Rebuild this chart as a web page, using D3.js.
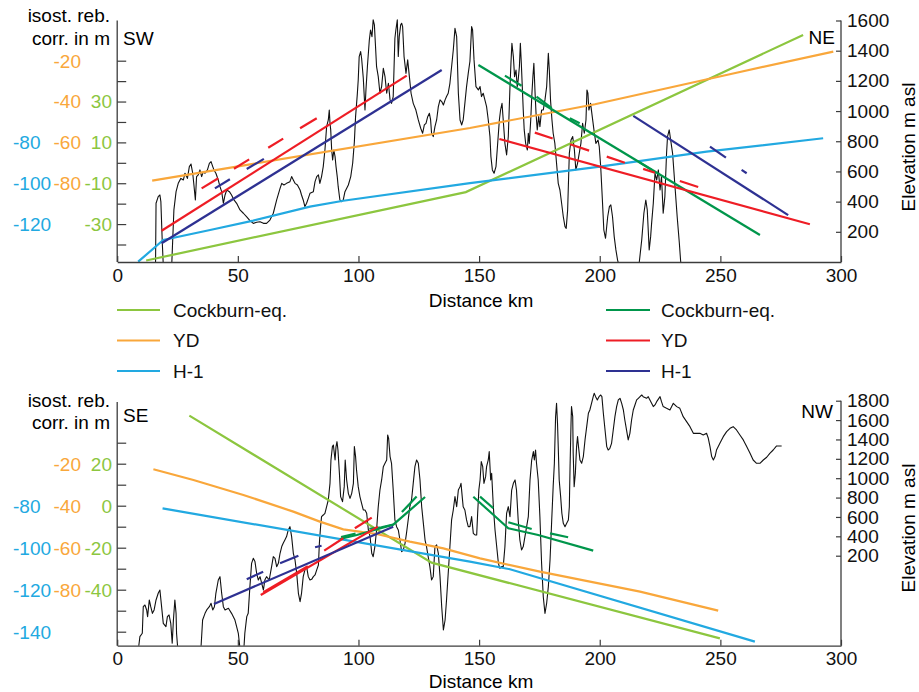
<!DOCTYPE html>
<html>
<head>
<meta charset="utf-8">
<script src="https://cdn.jsdelivr.net/npm/d3@7"></script>
<style>
  body { margin: 0; background: #fff; }
  svg text { font-family: "Liberation Sans", Arial, Helvetica, sans-serif; font-size: 19px; }
</style>
</head>
<body>
<svg id="chart" width="919" height="692"></svg>
<script>
// ---------- shared axis values ----------
const distanceTicks = [0, 50, 100, 150, 200, 250, 300];
const elevTicksTop = [200, 400, 600, 800, 1000, 1200, 1400, 1600];
const elevTicksBottom = [200, 400, 600, 800, 1000, 1200, 1400, 1600, 1800];

// isostatic rebound correction axis (three shoreline series share the tick marks)
const corrTicksTop = [-20, -30, -40, -50, -60, -70, -80, -90, -100, -110];   // YD scale
const corrLabelsTopYD = [-20, -40, -60, -80];
const corrLabelsTopCockburn = [30, 10, -10, -30];
const corrLabelsTopH1 = [-80, -100, -120];
const corrTicksBottom = [-10, -20, -30, -40, -50, -60, -70, -80, -90, -100]; // YD scale
const corrLabelsBottomYD = [-20, -40, -60, -80];
const corrLabelsBottomCockburn = [20, 0, -20, -40];
const corrLabelsBottomH1 = [-80, -100, -120, -140];

const legendNames = ["Cockburn-eq.", "YD", "H-1"];

// ---------- SW–NE profile: [distance km, elevation m asl] ----------
const profileSWNE = [
  [15.9,0],[16.1,389],[17.0,433],[17.7,444],[18.1,400],[18.7,124],[19.1,-20],[22.6,-20],[23.5,345],[24.4,466],
  [25.3,521],[26.4,554],[27.4,543],[28.1,588],[29.1,554],[29.9,632],[30.6,649],[31.3,588],[31.8,510],[32.4,411],
  [32.9,566],[33.6,577],[34.3,610],[35.0,566],[35.7,599],[36.4,588],[37.4,610],[38.2,654],[38.9,665],[39.6,632],
  [40.1,610],[40.9,588],[41.9,543],[42.6,499],[43.3,466],[44.0,389],[44.7,444],[45.4,477],[46.5,466],[47.4,444],
  [48.4,411],[49.5,389],[50.9,345],[52.3,323],[53.6,300],[55.0,274],[56.4,256],[57.8,263],[59.2,267],[60.6,256],
  [61.9,256],[63.3,278],[64.7,323],[66.1,411],[67.5,488],[68.2,521],[69.1,510],[70.2,521],[71.6,532],[72.3,566],
  [73.0,543],[73.7,521],[74.7,510],[75.8,477],[76.4,444],[77.1,411],[77.8,367],[78.5,389],[79.2,422],[79.9,455],
  [81.3,466],[82.0,532],[82.7,566],[83.4,577],[84.0,521],[84.7,566],[85.4,632],[86.1,742],[86.8,897],[87.5,941],
  [87.9,1007],[88.2,919],[88.5,875],[88.9,742],[89.3,676],[89.8,742],[90.3,698],[90.7,632],[91.2,566],[91.6,499],
  [92.3,411],[93.0,400],[93.7,411],[94.4,466],[95.8,510],[96.8,566],[97.6,654],[98.3,797],[98.8,963],[99.5,1107],
  [99.9,1206],[100.3,1361],[100.9,1394],[101.3,1350],[102.0,1217],[102.7,1007],[103.1,1140],[103.7,1294],[104.5,1471],[105.0,1537],
  [105.6,1493],[106.1,1604],[106.6,1571],[107.0,1449],[107.5,1294],[108.2,1228],[108.9,1118],[109.6,1162],[110.3,1283],[111.0,1228],
  [111.7,1118],[112.4,1184],[113.1,1074],[113.7,1051],[114.4,1096],[115.1,1482],[115.5,1537],[116.1,1604],[116.5,1361],[116.9,1493],
  [117.5,1571],[117.9,1582],[118.3,1560],[118.9,1361],[119.7,1250],[120.4,1339],[121.1,1228],[121.8,1118],[122.7,1051],[123.8,1007],
  [124.8,941],[125.8,886],[126.6,853],[127.3,908],[128.0,919],[128.7,963],[129.4,985],[129.9,941],[130.3,853],[131.0,831],
  [131.7,897],[132.4,941],[133.1,1029],[133.8,1074],[134.5,1063],[135.2,1040],[135.9,1074],[136.5,1096],[137.2,1118],[137.9,1184],
  [138.6,1294],[139.3,1405],[140.0,1548],[140.7,1493],[141.4,1118],[142.1,941],[142.8,908],[143.4,941],[144.1,1051],[144.8,1162],
  [145.5,1250],[146.2,1330],[146.9,1560],[147.3,1537],[147.9,1339],[148.7,1162],[149.7,1140],[150.4,1162],[151.0,1096],[151.7,1118],
  [152.4,1074],[153.1,1029],[153.8,941],[154.5,831],[154.9,698],[155.5,610],[156.2,588],[157.0,632],[157.5,742],[158.4,941],
  [158.9,1007],[159.5,1051],[160.0,941],[160.7,786],[161.4,709],[162.1,831],[162.8,1162],[163.2,1317],[163.6,1449],[164.2,1361],
  [164.7,1228],[165.3,1272],[165.8,1162],[166.2,1206],[166.7,1294],[167.1,1449],[167.5,1317],[167.9,1162],[168.3,1007],[168.7,875],
  [169.3,786],[170.0,742],[170.4,853],[170.8,786],[171.4,941],[171.9,1118],[172.3,1228],[172.7,1317],[173.2,1118],[173.6,985],
  [174.1,875],[174.7,963],[175.2,897],[175.9,1007],[176.6,1007],[177.3,1074],[178.0,1162],[178.7,1383],[179.1,1272],[179.6,1074],
  [180.2,941],[180.7,853],[181.4,786],[182.1,654],[182.8,521],[183.5,477],[184.2,389],[184.9,300],[185.6,234],[186.1,223],
  [186.7,345],[187.4,720],[188.1,808],[188.8,831],[189.5,742],[190.1,610],[190.8,654],[191.5,720],[192.2,786],[192.9,919],
  [193.6,853],[194.3,941],[194.7,1140],[195.1,1118],[195.5,1007],[196.2,1051],[196.9,963],[197.6,875],[198.4,786],[199.3,808],
  [199.8,764],[200.4,632],[201.1,411],[201.7,212],[202.4,157],[203.3,300],[204.0,367],[204.6,378],[205.3,300],[206.0,168],
  [206.7,80],[207.4,13],[208.1,-30],[209.1,-141],[212.5,-208],[215.3,-97],[216.4,0],[217.4,146],[218.3,323],[219.1,411],
  [219.7,345],[220.5,80],[221.1,168],[221.5,256],[222.2,389],[222.9,588],[223.6,543],[224.3,610],[225.0,477],[225.6,566],
  [226.3,323],[227.0,433],[227.7,720],[228.1,831],[228.8,875],[229.4,808],[230.2,720],[231.2,499],[232.1,300],[233.0,124],
  [233.5,13],[233.9,-53]
];

// SW–NE shoreline gradients, first legend group
const cockburnSWNE_a = [[12,10],[144.5,463],[284.3,1504]];
const ydSWNE_a = [[14.5,539],[49.5,632],[146.2,888],[198,1045],[253.9,1244],[296.8,1394]];
const h1SWNE_a = [[8.7,2],[19.1,146],[38.5,212],[56.4,274],[79.9,367],[93.7,406],[146.2,522],[200.1,632],[244.3,731],[292.6,820]];

// SW–NE shoreline gradients, second legend group (solid lines and broken pieces)
const cockburnSWNE_b = [[149.7,1305],[266.4,179]];
const cockburnSWNE_bPieces = [
  [[160.7,1235],[167.6,1168]], [[173.8,1095],[180.1,1019]], [[187.6,952],[191.7,919]], [[216.0,665],[221.5,610]]
];
const ydSWNE_b = [[[18.4,207],[120.0,1235]], [[158.4,815],[287.1,250]]];
const ydSWNE_bPieces = [
  [[35.0,488],[41.9,555]], [[48.4,618],[54.7,680]], [[62.6,757],[68.8,817]], [[75.8,886],[82.7,952]],
  [[173.1,857],[180.5,818]], [[187.7,780],[195.6,738]], [[202.9,698],[210.4,658]], [[218.0,617],[222.9,591]], [[233.2,537],[240.8,497]]
];
const h1SWNE_b = [[[18.4,124],[134.5,1272]], [[213.9,968],[278.1,311]]];
const h1SWNE_bPieces = [
  [[40.5,488],[46.7,548]], [[53.7,616],[60.8,683]], [[245.7,764],[252.3,691]], [[258.8,610],[260.9,588]]
];

// ---------- SE–NW profile ----------
const profileSENW = [
  [8.9,-740],[9.4,-636],[10.4,-601],[10.8,-326],[11.5,-309],[12.2,-360],[12.6,-429],[13.3,-257],[13.9,-326],[14.6,-395],
  [15.3,-360],[16.1,-257],[17.0,-188],[17.7,-154],[18.4,-326],[19.1,-498],[20.2,-532],[20.8,-429],[21.5,-412],[22.2,-498],
  [22.8,-704],[23.3,-464],[23.9,-257],[24.4,-395],[24.6,-601],[25.1,-760],[34.7,-760],[35.4,-464],[36.4,-395],[37.1,-360],
  [38.2,-326],[38.9,-291],[39.6,-360],[40.3,-326],[40.9,-188],[41.9,-51],[42.6,-16],[43.3,-188],[44.0,-326],[44.7,-360],
  [46.1,-343],[47.4,-395],[48.8,-464],[49.5,-532],[50.2,-601],[50.9,-760],[52.5,-760],[52.9,-601],[53.7,-429],[54.3,-395],
  [55.0,-119],[55.7,121],[56.4,173],[57.1,139],[57.8,18],[58.5,-51],[59.2,-16],[59.9,-85],[60.6,-154],[61.2,-51],
  [61.9,-16],[63.0,-51],[64.0,87],[64.7,190],[65.4,173],[66.1,87],[66.8,121],[67.5,225],[68.2,294],[68.8,328],
  [69.5,362],[70.2,397],[70.9,466],[71.6,500],[72.3,397],[73.0,225],[73.7,156],[74.4,18],[75.1,-188],[75.8,-274],
  [76.4,-188],[77.1,-16],[77.8,53],[78.5,87],[79.2,-16],[79.9,-51],[80.6,-44],[81.3,-16],[82.0,1],[82.7,53],
  [83.4,104],[83.8,328],[84.3,500],[84.7,603],[85.4,620],[86.1,638],[86.8,706],[87.5,775],[88.2,947],[88.6,1188],
  [89.2,1326],[89.6,1343],[90.3,1188],[90.7,1326],[91.1,1377],[91.5,1291],[92.1,1051],[92.6,810],[93.4,758],[94.1,913],
  [94.5,1188],[95.1,982],[95.8,844],[96.5,792],[97.2,844],[97.9,947],[98.3,1326],[98.8,1223],[99.2,1085],[99.9,913],
  [100.6,810],[101.3,741],[102.0,672],[102.7,672],[103.4,638],[104.1,466],[104.8,397],[105.5,225],[106.1,190],[106.8,293],
  [107.5,466],[108.2,706],[108.9,878],[109.6,982],[110.3,1119],[111.0,1154],[111.7,1188],[112.1,1446],[112.5,1412],[113.1,1223],
  [113.7,1154],[114.4,878],[115.1,569],[115.8,500],[116.5,466],[117.2,362],[117.9,242],[118.6,259],[119.3,328],[119.9,431],
  [120.6,569],[121.3,706],[122.0,775],[122.7,947],[123.4,1119],[124.1,1188],[124.8,1154],[125.5,982],[126.2,706],[126.9,534],
  [127.6,362],[128.2,294],[128.9,190],[129.6,87],[130.3,-51],[131.0,-16],[131.7,293],[132.4,311],[133.1,225],[133.8,-16],
  [134.5,-326],[135.2,-567],[135.9,-464],[136.5,-257],[137.2,18],[137.9,293],[138.6,569],[139.3,672],[140.0,810],[140.7,706],
  [141.4,878],[142.1,913],[142.5,947],[143.0,810],[143.4,706],[144.1,672],[144.8,569],[145.5,500],[146.2,500],[146.9,603],
  [147.6,431],[148.3,414],[149.0,414],[149.4,638],[149.9,879],[150.4,982],[150.9,1171],[151.5,1119],[152.0,947],[152.7,1016],
  [153.1,1119],[153.8,1188],[154.2,1274],[154.8,982],[155.2,1051],[155.9,706],[156.6,466],[157.3,293],[158.0,121],[158.6,70],
  [159.3,87],[160.0,87],[160.7,293],[161.4,638],[162.1,706],[162.8,603],[163.5,878],[164.2,947],[164.9,982],[165.5,878],
  [166.2,569],[166.9,362],[167.6,259],[168.3,294],[169.0,397],[169.7,500],[170.4,603],[171.1,982],[171.8,1188],[172.5,1274],
  [172.9,1188],[173.4,1291],[173.8,1154],[174.5,982],[175.2,603],[175.9,121],[176.6,-223],[177.3,-395],[178.0,-291],[178.7,-119],
  [179.4,156],[180.1,569],[180.7,913],[181.2,1154],[181.7,1635],[182.1,1773],[182.5,1567],[182.8,1326],[183.2,982],[183.8,810],
  [184.3,638],[184.9,534],[185.6,500],[186.3,534],[187.0,569],[187.4,706],[187.7,1119],[188.1,1567],[188.3,1739],[188.8,1635],
  [189.0,1257],[189.4,913],[189.9,1051],[190.4,1326],[190.8,1429],[191.2,1326],[191.8,1188],[192.5,1154],[193.2,1223],[193.9,1395],
  [194.6,1532],[195.3,1670],[195.9,1704],[196.6,1773],[197.3,1842],[197.7,1876],[198.3,1842],[199.0,1808],[199.7,1842],[200.4,1859],
  [200.9,1842],[201.5,1670],[202.2,1498],[202.9,1326],[203.5,1291],[204.2,1309],[204.9,1360],[205.6,1498],[206.3,1635],[207.0,1739],
  [207.7,1808],[208.4,1825],[209.1,1773],[209.8,1704],[210.4,1601],[211.1,1498],[211.8,1395],[212.5,1463],[213.2,1601],[213.9,1704],
  [214.6,1756],[215.3,1808],[216.0,1825],[216.7,1842],[217.4,1859],[218.0,1842],[219.4,1825],[220.1,1842],[220.8,1808],[222.2,1739],
  [222.9,1756],[223.6,1790],[225.0,1842],[225.6,1790],[226.3,1739],[227.7,1721],[229.1,1704],[230.5,1773],[231.9,1739],[233.2,1721],
  [234.6,1635],[236.0,1584],[237.4,1532],[238.8,1463],[240.1,1463],[241.5,1463],[242.9,1446],[244.3,1463],[245.0,1412],[245.7,1326],
  [246.4,1223],[247.1,1188],[247.8,1223],[248.4,1291],[249.8,1360],[251.2,1429],[252.6,1481],[254.0,1515],[255.3,1532],[256.7,1498],
  [258.1,1446],[259.5,1395],[260.9,1326],[262.3,1257],[263.6,1188],[265.0,1154],[266.4,1154],[267.8,1188],[269.2,1216],[270.5,1257],
  [271.9,1291],[273.3,1333],[275.4,1333]
];

// SE–NW shoreline gradients, first legend group
const cockburnSENW_a = [[29.9,1646],[130.3,128],[249.8,-653]];
const ydSENW_a = [[15.0,1092],[31.6,982],[52.3,827],[73.0,655],[84.0,552],[93.7,472],[107.5,424],[121.3,345],
                  [135.2,276],[150.4,173],[175.2,35],[216.7,-171],[249.1,-367]];
const h1SENW_a = [[18.8,689],[146.2,139],[162.8,60],[264.3,-687]];

// SE–NW shoreline gradients, second legend group
const cockburnSENW_b = [
  [[92.3,372],[99.3,414],[105.5,458],[114.4,520],[127.6,806]],
  [[147.6,809],[155.2,638],[162.1,483],[174.5,414],[197.3,252]]
];
const cockburnSENW_bPieces = [
  [[92.8,392],[98.8,428]], [[104.5,478],[109.5,494],[114.4,522]], [[118.0,650],[124.1,810]],
  [[150.4,809],[155.9,690]], [[162.1,545],[171.8,476]], [[179.4,431],[186.9,390]]
];
const ydSENW_b = [[[59.5,-205],[108.0,500]]];
const ydSENW_bPieces = [[[60.6,-178],[79.0,92]], [[85.8,252],[93.7,380]], [[98.5,483],[105.5,593]]];
const h1SENW_b = [[[40.1,-298],[114.4,500]]];
const h1SENW_bPieces = [[[53.7,-43],[60.5,35]], [[67.5,122],[75.1,200]], [[82.0,287],[84.7,303]]];

// ---------- colours ----------
const C = {
  lightGreen: "#8cc63f", orange: "#f9a73b", lightBlue: "#22a9e1",
  darkGreen: "#00964b", red: "#ee1d25", navy: "#2e3192",
  axis: "#3c3c3c", profile: "#111"
};

const svg = d3.select("#chart");
const x = d3.scaleLinear().domain([0, 300]).range([117.2, 841]);

const panels = [
  {
    id: "swne", top: 20.5, bottom: 262, leftTop: 20.5,
    y: d3.scaleLinear().domain([0, 1600]).range([262, 20.5]),
    elevTicks: elevTicksTop, xLabelPad: 7,
    corr: d3.scaleLinear().domain([-20, -110]).range([60.7, 244.5]),
    corrTicks: corrTicksTop, ydOffset: 0, cockburnOffset: 70, h1Offset: -20,
    labelsYD: corrLabelsTopYD, labelsCockburn: corrLabelsTopCockburn, labelsH1: corrLabelsTopH1,
    titleBase: [21.5, 45], leftName: "SW", rightName: "NE",
    leftNameY: 45, rightNameY: 44.3, rightNameX: 835, xTitleY: 307, elevTitleY: 147,
    profile: profileSWNE,
    groupA: [[cockburnSWNE_a, C.lightGreen], [ydSWNE_a, C.orange], [h1SWNE_a, C.lightBlue]],
    groupB: [
      [[cockburnSWNE_b], C.darkGreen], [cockburnSWNE_bPieces, C.darkGreen],
      [ydSWNE_b, C.red], [ydSWNE_bPieces, C.red],
      [h1SWNE_b, C.navy], [h1SWNE_bPieces, C.navy]
    ]
  },
  {
    id: "senw", top: 400.7, bottom: 645.7, leftTop: 402,
    y: d3.scaleLinear().domain([-729, 1800]).range([645.7, 400.7]),
    elevTicks: elevTicksBottom, xLabelPad: 6,
    corr: d3.scaleLinear().domain([-10, -100]).range([442.7, 631.7]),
    corrTicks: corrTicksBottom, ydOffset: 0, cockburnOffset: 40, h1Offset: -40,
    labelsYD: corrLabelsBottomYD, labelsCockburn: corrLabelsBottomCockburn, labelsH1: corrLabelsBottomH1,
    titleBase: [406.7, 429.3], leftName: "SE", rightName: "NW",
    leftNameY: 421.7, rightNameY: 418.3, rightNameX: 833, xTitleY: 688, elevTitleY: 528,
    profile: profileSENW,
    groupA: [[cockburnSENW_a, C.lightGreen], [ydSENW_a, C.orange], [h1SENW_a, C.lightBlue]],
    groupB: [
      [cockburnSENW_b, C.darkGreen], [cockburnSENW_bPieces, C.darkGreen],
      [ydSENW_b, C.red], [ydSENW_bPieces, C.red],
      [h1SENW_b, C.navy], [h1SENW_bPieces, C.navy]
    ]
  }
];

panels.forEach(p => {
  const g = svg.append("g").attr("class", "panel-" + p.id);
  const y = p.y;
  const line = d3.line().x(d => x(d[0])).y(d => y(d[1]));

  // clip region: plot area, with headroom so summits may rise above the frame
  svg.append("clipPath").attr("id", "clip-" + p.id)
    .append("rect").attr("x", x(0)).attr("y", p.top - 15)
    .attr("width", x(300) - x(0)).attr("height", p.bottom - p.top + 15);

  const plot = g.append("g").attr("clip-path", `url(#clip-${p.id})`);

  // terrain profile
  plot.append("path").datum(p.profile)
    .attr("d", line).attr("fill", "none")
    .attr("stroke", C.profile).attr("stroke-width", 1.1).attr("stroke-linejoin", "round");

  // first group of shoreline gradients
  p.groupA.forEach(([pts, col]) => {
    plot.append("path").datum(pts).attr("d", line)
      .attr("fill", "none").attr("stroke", col).attr("stroke-width", 2.2);
  });
  // second group: each entry is a list of polylines
  p.groupB.forEach(([list, col]) => {
    plot.selectAll(null).data(list).enter().append("path")
      .attr("d", line).attr("fill", "none").attr("stroke", col)
      .attr("stroke-width", 2.2).attr("stroke-linecap", "butt");
  });

  // bottom distance axis
  const xAxis = d3.axisBottom(x).tickValues(distanceTicks)
    .tickSizeInner(-6).tickSizeOuter(0).tickPadding(p.xLabelPad);
  const gx = g.append("g").attr("transform", `translate(0,${p.bottom})`).call(xAxis);

  // right elevation axis
  const yAxis = d3.axisRight(y).tickValues(p.elevTicks)
    .tickSizeInner(-5).tickSizeOuter(0).tickPadding(6).tickFormat(d3.format("d"));
  const gy = g.append("g").attr("transform", `translate(${x(300)},0)`).call(yAxis);
  gy.select(".domain").remove();
  g.append("line").attr("x1", x(300)).attr("x2", x(300))
    .attr("y1", p.top).attr("y2", p.bottom).attr("stroke", C.axis).attr("stroke-width", 1.3);

  // left correction axis (tick marks only; labels are coloured per series)
  const cAxis = d3.axisRight(p.corr).tickValues(p.corrTicks)
    .tickSizeInner(9).tickSizeOuter(0).tickFormat("");
  const gc = g.append("g").attr("transform", `translate(${x(0)},0)`).call(cAxis);
  gc.select(".domain").remove();
  g.append("line").attr("x1", x(0)).attr("x2", x(0))
    .attr("y1", p.leftTop).attr("y2", p.bottom).attr("stroke", C.axis).attr("stroke-width", 1.3);

  [gx, gy, gc].forEach(a => {
    a.selectAll(".tick line").attr("stroke", C.axis).attr("stroke-width", 1.2);
    a.selectAll(".domain").attr("stroke", C.axis).attr("stroke-width", 1.3);
    a.selectAll("text").attr("fill", "#111").style("font-size", "19px")
      .style("font-family", '"Liberation Sans", Arial, sans-serif');
  });

  // coloured correction labels
  const addLabels = (vals, offset, col, xPos, anchor) => {
    g.selectAll(null).data(vals).enter().append("text")
      .attr("x", xPos).attr("y", d => p.corr(d - offset)).attr("dy", "0.36em")
      .attr("text-anchor", anchor).attr("fill", col).text(d => d);
  };
  addLabels(p.labelsYD, p.ydOffset, C.orange, 81, "end");
  addLabels(p.labelsCockburn, p.cockburnOffset, C.lightGreen, 112, "end");
  addLabels(p.labelsH1, p.h1Offset, C.lightBlue, 13, "start");

  // axis titles and direction labels
  g.append("text").attr("x", 110).attr("y", p.titleBase[0]).attr("text-anchor", "end").text("isost. reb.");
  g.append("text").attr("x", 110).attr("y", p.titleBase[1]).attr("text-anchor", "end").text("corr. in m");
  g.append("text").attr("x", 123).attr("y", p.leftNameY).text(p.leftName);
  g.append("text").attr("x", p.rightNameX).attr("y", p.rightNameY).attr("text-anchor", "end").text(p.rightName);
  g.append("text").attr("x", 481).attr("y", p.xTitleY).attr("text-anchor", "middle").text("Distance km");
  g.append("text").attr("transform", `translate(915,${p.elevTitleY}) rotate(-90)`)
    .attr("text-anchor", "middle").text("Elevation m asl");
});

// ---------- legend between the panels ----------
const legendGroups = [
  { lineX: [117, 160], textX: 173, colors: [C.lightGreen, C.orange, C.lightBlue] },
  { lineX: [606, 650], textX: 661, colors: [C.darkGreen, C.red, C.navy] }
];
const legendRowY = d3.scalePoint().domain(legendNames).range([310, 371]);
legendGroups.forEach(lg => {
  const rows = svg.append("g").selectAll(null).data(legendNames).enter().append("g");
  rows.append("line")
    .attr("x1", lg.lineX[0]).attr("x2", lg.lineX[1])
    .attr("y1", d => legendRowY(d)).attr("y2", d => legendRowY(d))
    .attr("stroke", (d, i) => lg.colors[i]).attr("stroke-width", 2.2);
  rows.append("text").attr("x", lg.textX).attr("y", d => legendRowY(d)).attr("dy", "0.36em")
    .attr("fill", "#111").text(d => d);
});
</script>
</body>
</html>
